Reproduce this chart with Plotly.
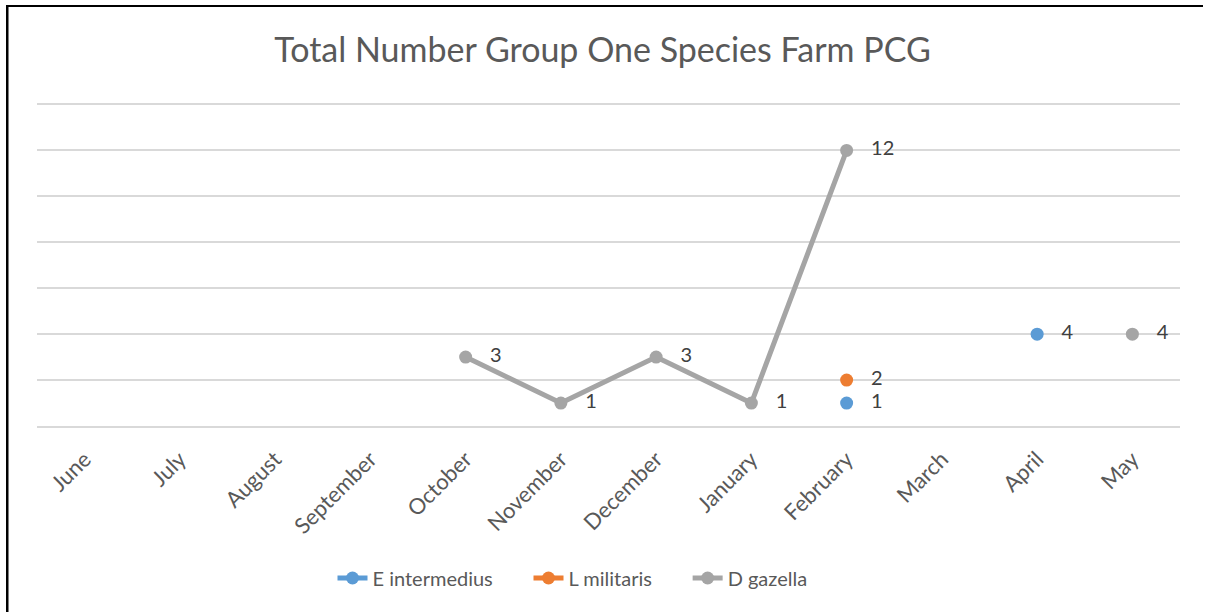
import plotly.graph_objects as go

months = ["June", "July", "August", "September", "October", "November",
          "December", "January", "February", "March", "April", "May"]
e_intermedius = [None, None, None, None, None, None, None, None, 1, None, 4, None]
l_militaris = [None, None, None, None, None, None, None, None, 2, None, None, None]
d_gazella = [None, None, None, None, 3, 1, 3, 1, 12, None, None, 4]

series = [
    ("E intermedius", e_intermedius, "#5B9BD5"),
    ("L militaris", l_militaris, "#ED7D31"),
    ("D gazella", d_gazella, "#A5A5A5"),
]

FONT = "Lato"
TXT = "#595959"
NB = "\u00a0"

fig = go.Figure()
for name, vals, color in series:
    fig.add_trace(go.Scatter(
        x=months, y=vals, name=name + NB * 6, mode="lines+markers+text",
        line=dict(color=color, width=5),
        marker=dict(color=color, size=13),
        texttemplate="   %{y}", textposition="middle right",
        textfont=dict(family=FONT, size=20, color="#404040"),
        connectgaps=False, cliponaxis=False,
    ))

T, B = 93, 186
PH = 612 - T - B  # plot height in px
PW = 1205 - 37 - 25

def px_y(py):
    return (612 - B - py) / PH

def px_x(px):
    return (px - 37) / PW

fig.update_layout(
    width=1205, height=612,
    margin=dict(l=37, r=25, t=T, b=B, autoexpand=False),
    paper_bgcolor="white", plot_bgcolor="white",
    title=dict(text="Total Number Group One Species Farm PCG",
               x=0.5, xanchor="center", y=0.918, yanchor="middle",
               font=dict(family=FONT, size=34, color=TXT)),
    xaxis=dict(type="category", categoryorder="array", categoryarray=months,
               range=[-0.5, 11.5], tickangle=-45, showgrid=False,
               showline=True, linecolor="#D9D9D9", linewidth=1.5,
               ticks="", ticklabelstandoff=10, automargin=False,
               tickfont=dict(family=FONT, size=22, color=TXT)),
    yaxis=dict(range=[0, 14.5], tick0=0, dtick=2, showticklabels=False,
               gridcolor="#D9D9D9", gridwidth=1.5, zeroline=False,
               showline=False, fixedrange=True),
    legend=dict(orientation="h", x=px_x(588),
                xanchor="center", y=px_y(578),
                yanchor="middle", font=dict(family=FONT, size=20, color=TXT),
                tracegroupgap=0),
    showlegend=True,
    shapes=[
        dict(type="rect", xref="paper", yref="paper",
             x0=px_x(6), x1=px_x(8.5), y0=px_y(612), y1=px_y(5),
             fillcolor="black", line=dict(width=0)),
        dict(type="rect", xref="paper", yref="paper",
             x0=px_x(6), x1=px_x(1203), y0=px_y(7), y1=px_y(5),
             fillcolor="black", line=dict(width=0)),
    ],
)

fig.write_html("out.html")
